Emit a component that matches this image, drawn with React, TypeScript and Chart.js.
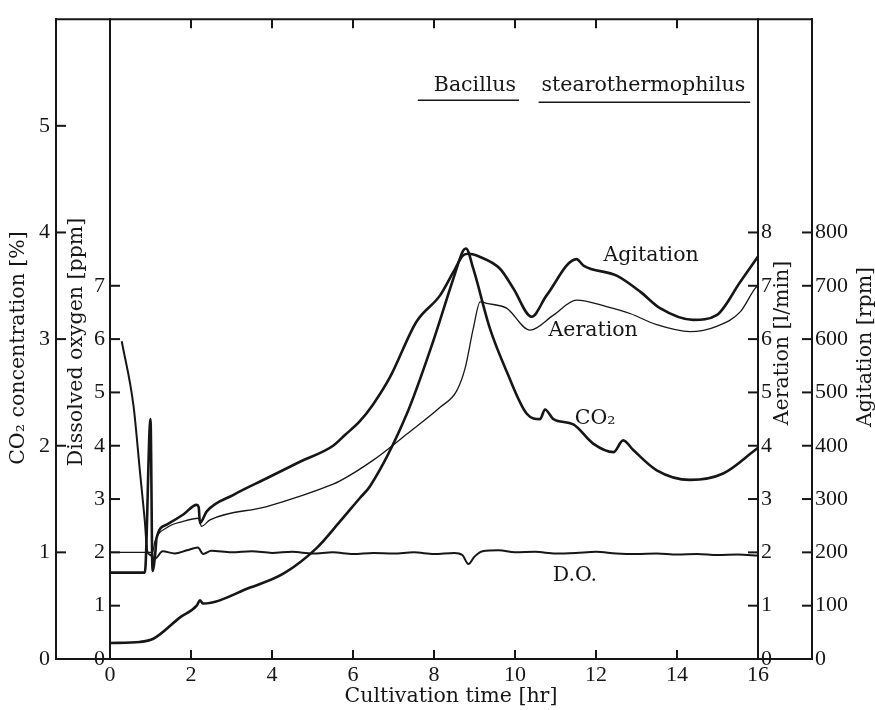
import React, { useEffect, useRef } from "react";
import { Chart, registerables } from "chart.js";

Chart.register(...registerables);

// ---------- data (time in hr) ----------
const co2Time = [0, 0.74, 1.07, 1.73, 2.14, 2.22, 2.3, 3.46, 4.28, 5.1, 5.68, 6.17, 6.42, 7.33, 7.98, 8.48, 8.72, 8.79, 8.97, 9.38, 9.79, 10.29, 10.62, 10.74, 10.95, 11.44, 11.93, 12.43, 12.67, 12.92, 13.5, 14.32, 15.14, 15.93, 16];
const co2Percent = [0.15, 0.16, 0.19, 0.39, 0.5, 0.55, 0.52, 0.67, 0.8, 1.04, 1.29, 1.51, 1.62, 2.3, 2.98, 3.57, 3.83, 3.85, 3.66, 3.1, 2.7, 2.3, 2.25, 2.34, 2.25, 2.2, 2.02, 1.94, 2.05, 1.96, 1.77, 1.68, 1.74, 1.96, 1.98];

const doTime = [0.29, 0.58, 0.74, 0.86, 0.92, 1.0, 1.11, 1.3, 1.6, 1.9, 2.17, 2.3, 2.5, 3, 3.5, 4, 4.5, 5, 5.5, 6, 6.5, 7, 7.5, 8, 8.5, 8.7, 8.85, 9.0, 9.2, 9.6, 10, 10.5, 11, 11.5, 12, 12.5, 13, 13.5, 14, 14.5, 15, 15.5, 16];
const doPpm = [5.96, 4.75, 3.51, 2.58, 2.02, 1.95, 1.88, 2.02, 1.98, 2.04, 2.09, 1.97, 2.03, 2.0, 2.02, 1.99, 2.01, 1.98, 2.0, 1.97, 1.99, 1.98, 2.0, 1.97, 1.99, 1.95, 1.78, 1.92, 2.02, 2.04, 2.0, 2.01, 1.98, 1.99, 2.01, 1.98, 1.97, 1.98, 1.96, 1.97, 1.95, 1.96, 1.94];

const aerTime = [0, 1.05, 1.11, 1.4, 1.81, 2.18, 2.26, 2.47, 3.87, 5.51, 5.68, 6.5, 7.33, 8.15, 8.56, 8.77, 8.97, 9.14, 9.3, 9.79, 10.37, 10.95, 11.52, 12.26, 12.84, 13.5, 14.32, 14.98, 15.56, 15.93, 16];
const aerLpm = [2.0, 2.0, 2.21, 2.46, 2.58, 2.64, 2.49, 2.61, 2.86, 3.28, 3.34, 3.73, 4.22, 4.72, 5.03, 5.46, 6.2, 6.7, 6.67, 6.58, 6.17, 6.45, 6.73, 6.61, 6.48, 6.27, 6.14, 6.24, 6.51, 6.95, 7.0];

const agiTime = [0, 0.86, 1.0, 1.05, 1.12, 1.15, 1.4, 1.81, 2.14, 2.19, 2.22, 2.39, 3.05, 3.87, 4.69, 5.51, 5.8, 6.17, 6.5, 6.91, 7.57, 8.15, 8.48, 8.72, 8.85, 9.14, 9.63, 9.96, 10.41, 10.78, 11.52, 11.69, 12.51, 13.09, 13.58, 14.4, 14.98, 15.56, 16];
const agiRpm = [162, 162, 450, 165, 200, 227, 252, 271, 289, 285, 255, 277, 308, 339, 370, 400, 420, 446, 478, 528, 633, 682, 726, 757, 760, 754, 732, 695, 642, 682, 750, 738, 719, 689, 658, 636, 645, 707, 755];

// ---------- tick labels ----------
const timeTicks = [0, 2, 4, 6, 8, 10, 12, 14, 16];
const co2TickLabels = [0, 1, 2, 3, 4, 5];
const doTickLabels = [0, 1, 2, 3, 4, 5, 6, 7];
const aerTickLabels = [0, 1, 2, 3, 4, 5, 6, 7, 8];
const agiTickLabels = [0, 100, 200, 300, 400, 500, 600, 700, 800];

// ---------- text ----------
const titleCO2 = "CO\u2082 concentration [%]";
const titleDO = "Dissolved oxygen [ppm]";
const titleAer = "Aeration [l/min]";
const titleAgi = "Agitation [rpm]";
const titleTime = "Cultivation time [hr]";
const curveLabels = ["Agitation", "Aeration", "CO\u2082", "D.O."];
const curveLabelTime = [13.36, 11.93, 11.98, 11.48];
const curveLabelLevel = [7.56, 6.15, 4.5, 1.56]; // on the 0-12 aeration scale
const organismWords = ["Bacillus", "stearothermophilus"];
const organismTime = [9.01, 13.17];
const organismLevel = [10.76, 10.76];

const INK = "#161616";
const TEXT_FONT = '20.5px "DejaVu Serif"';
const tickFont = { family: "Liberation Serif", size: 22 };

const pts = (xs: number[], ys: number[]) => xs.map((x, i) => ({ x, y: ys[i] }));

const decorPlugin = {
  id: "decor",
  afterDraw(chart: any) {
    const ctx: CanvasRenderingContext2D = chart.ctx;
    const { top, bottom } = chart.chartArea;
    const sx = chart.scales.x;
    const yc = chart.scales.yCO2;
    const yd = chart.scales.yDO;
    const ya = chart.scales.yAer;
    const yg = chart.scales.yAgi;
    const xL = yc.right;
    const xR = yg.left;
    ctx.save();
    ctx.strokeStyle = INK;
    ctx.fillStyle = INK;
    ctx.lineWidth = 2;
    ctx.lineCap = "butt";
    const line = (x1: number, y1: number, x2: number, y2: number) => {
      ctx.beginPath();
      ctx.moveTo(x1, y1);
      ctx.lineTo(x2, y2);
      ctx.stroke();
    };
    // frame extensions (top and bottom)
    line(xL - 1, top, xR + 1, top);
    line(xL - 1, bottom, xR + 1, bottom);
    // x ticks (inward, bottom and top)
    for (const t of sx.ticks) {
      if (t.value <= sx.min || t.value >= sx.max) continue;
      const px = sx.getPixelForValue(t.value);
      line(px, bottom, px, bottom - 9);
      line(px, top, px, top + 9);
    }
    const yTicks = (s: any, x0: number, dir: number) => {
      for (const t of s.ticks) {
        if (t.value <= s.min || t.value >= s.max) continue;
        const py = s.getPixelForValue(t.value);
        line(x0, py, x0 + dir * 10, py);
      }
    };
    yTicks(yc, yc.right, 1);
    yTicks(yd, yd.right, 1);
    yTicks(ya, ya.left, -1);
    yTicks(yg, yg.left, -1);

    // axis titles
    ctx.font = TEXT_FONT;
    const vText = (text: string, x: number, y: number) => {
      ctx.save();
      ctx.translate(x, y);
      ctx.rotate(-Math.PI / 2);
      ctx.textAlign = "center";
      ctx.textBaseline = "middle";
      ctx.fillText(text, 0, 0);
      ctx.restore();
    };
    vText(titleCO2, yc.left + 19, 348);
    vText(titleDO, yd.left + 21, 342);
    vText(titleAer, ya.left + 25, 343);
    vText(titleAgi, yg.left + 54, 347);
    ctx.textAlign = "center";
    ctx.textBaseline = "middle";
    ctx.fillText(titleTime, (sx.left + sx.right) / 2 + 17, 697);

    // curve labels
    curveLabels.forEach((txt, i) => {
      ctx.fillText(txt, sx.getPixelForValue(curveLabelTime[i]), ya.getPixelForValue(curveLabelLevel[i]));
    });
    // organism name with underlines
    ctx.lineWidth = 1.6;
    organismWords.forEach((txt, i) => {
      const cx = sx.getPixelForValue(organismTime[i]);
      const cy = ya.getPixelForValue(organismLevel[i]);
      ctx.fillText(txt, cx, cy);
      const w = ctx.measureText(txt).width;
      const uy = cy + 15 + i * 2;
      line(cx - w / 2 - (i === 0 ? 16 : 3), uy, cx + w / 2 + (i === 0 ? 3 : 5), uy);
    });
    ctx.restore();
  },
};

const labelCb = (allowed: number[]) => (v: any) =>
  allowed.some((a) => Math.abs(a - Number(v)) < 1e-6) ? String(Math.round(Number(v))) : null;

const baseY = (min: number, max: number, step: number, allowed: number[], padding: number) => ({
  min,
  max,
  grid: { display: false, drawTicks: false },
  border: { display: true, color: INK, width: 2 },
  ticks: {
    stepSize: step,
    autoSkip: false,
    padding,
    color: INK,
    font: tickFont,
    callback: labelCb(allowed),
  },
});

export default function App() {
  const ref = useRef<HTMLCanvasElement | null>(null);
  useEffect(() => {
    if (!ref.current) return;
    const chart = new Chart(ref.current, {
      type: "line",
      data: {
        datasets: [
          {
            label: "D.O.",
            data: pts(doTime, doPpm),
            yAxisID: "yDO",
            borderColor: INK,
            borderWidth: 2,
            pointRadius: 0,
            cubicInterpolationMode: "monotone",
          },
          {
            label: "Aeration",
            data: pts(aerTime, aerLpm),
            yAxisID: "yAer",
            borderColor: INK,
            borderWidth: 1.3,
            pointRadius: 0,
            cubicInterpolationMode: "monotone",
          },
          {
            label: "Agitation",
            data: pts(agiTime, agiRpm),
            yAxisID: "yAgi",
            borderColor: INK,
            borderWidth: 2.6,
            pointRadius: 0,
            cubicInterpolationMode: "monotone",
          },
          {
            label: "CO2",
            data: pts(co2Time, co2Percent),
            yAxisID: "yCO2",
            borderColor: INK,
            borderWidth: 2.6,
            pointRadius: 0,
            cubicInterpolationMode: "monotone",
          },
        ],
      },
      options: {
        animation: false,
        responsive: false,
        maintainAspectRatio: false,
        parsing: true,
        layout: { padding: { top: 13, left: 0, right: 0, bottom: 0 } },
        plugins: { legend: { display: false }, tooltip: { enabled: false } },
        scales: {
          x: {
            type: "linear",
            position: "bottom",
            min: 0,
            max: 16,
            grid: { display: false, drawTicks: false },
            border: { display: true, color: INK, width: 2 },
            afterBuildTicks: (s: any) => {
              s.ticks = timeTicks.map((v) => ({ value: v }));
            },
            ticks: { autoSkip: false, maxRotation: 0, padding: 3, color: INK, font: tickFont },
            afterFit: (s: any) => {
              s.height = 51;
            },
          },
          yDO: {
            type: "linear",
            position: "left",
            weight: 0,
            ...baseY(0, 12, 1, doTickLabels, 5),
            afterFit: (s: any) => {
              s.width = 54;
            },
          },
          yCO2: {
            type: "linear",
            position: "left",
            weight: 1,
            ...baseY(0, 6, 0.5, co2TickLabels, 6),
            afterFit: (s: any) => {
              s.width = 56;
            },
          },
          yAer: {
            type: "linear",
            position: "right",
            weight: 0,
            ...baseY(0, 12, 1, aerTickLabels, 3),
            afterFit: (s: any) => {
              s.width = 54;
            },
          },
          yAgi: {
            type: "linear",
            position: "right",
            weight: 1,
            ...baseY(0, 1200, 100, agiTickLabels, 3),
            afterFit: (s: any) => {
              s.width = 63;
            },
          },
        },
      } as any,
      plugins: [decorPlugin],
    });
    return () => chart.destroy();
  }, []);

  return (
    <div style={{ position: "absolute", left: 0, top: 0, width: 875, height: 710, background: "#fff" }}>
      <canvas ref={ref} width={875} height={710} style={{ display: "block", width: 875, height: 710 }} />
    </div>
  );
}
